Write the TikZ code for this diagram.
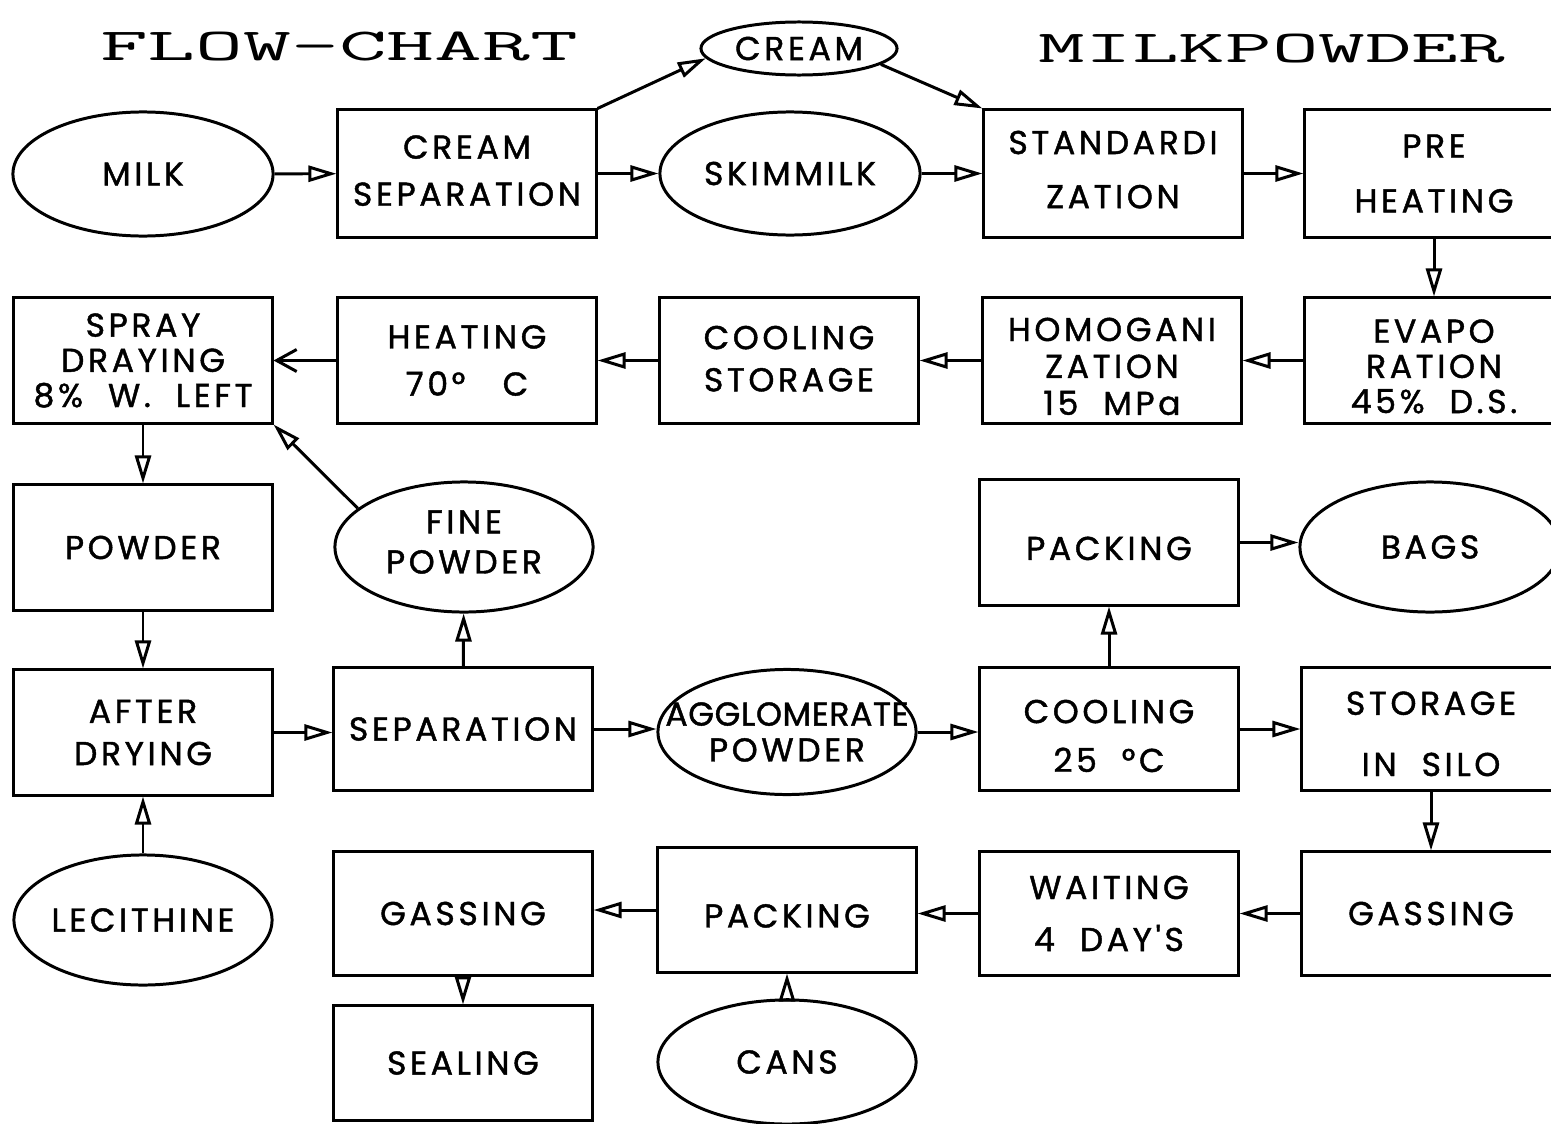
\documentclass[tikz,border=0pt]{standalone}
\usepackage{fontspec}
\usetikzlibrary{shapes.geometric,arrows.meta}
\newfontfamily\boxfont{Poppins}[LetterSpace=11,FakeBold=1.3]
\newcommand{\zw}[1]{\makebox[0pt]{#1}}

\begin{document}
\begin{tikzpicture}[x=0.01cm,y=0.01cm,
  stroke/.style={line width=0.85pt},
  box/.style={stroke, draw, rectangle, minimum width=2.58cm, minimum height=1.25cm, inner sep=0pt, align=center},
  oval/.style={stroke, draw, ellipse, minimum width=2.58cm, minimum height=1.27cm, inner sep=0pt, align=center},
  ls/.style={font=\boxfont\fontsize{9.4pt}{#1}\selectfont},
  ls/.default=12pt,
  flow/.style={stroke, -{Triangle[open,length=0.28cm,width=0.16cm]}},
  barb/.style={stroke, -{Straight Barb[length=0.2cm,width=0.22cm]}},
  title/.style={font=\ttfamily\fontsize{13pt}{15pt}\selectfont}
]
\useasboundingbox (0,0) rectangle (1551,-1124);

% headings
\node[title] (t1) at (339,-46) {\scalebox{2.03}[1]{FLOW—CHART}};
\node[title] (t2) at (1272,-49) {\scalebox{1.98}[1]{MILKPOWDER}};

% row 1
\node[oval, minimum width=2.60cm, minimum height=1.24cm, ls] (milk) at (143,-174) {MILK};
\node[box, minimum height=1.27cm, ls=13.4pt, text depth=1.7pt] (cs) at (467,-173.5) {CREAM\\\zw{SEPARATION}};
\node[oval, minimum width=1.96cm, minimum height=0.53cm, ls] (cream) at (799,-48.5) {\zw{CREAM}};
\node[oval, minimum width=2.60cm, minimum height=1.23cm, ls] (skim) at (790,-173.5) {SKIMMILK};
\node[box, minimum height=1.27cm, ls=15.4pt, text depth=2.3pt] (std) at (1113,-173.5) {\zw{STANDARDI}\\ZATION};
\node[box, minimum height=1.27cm, ls=15.6pt] (pre) at (1434,-173.5) {PRE\\HEATING};

% row 2
\node[box, ls=10pt] (spray) at (143,-360.5) {SPRAY\\DRAYING\\\zw{8\%~~W.~~LEFT}};
\node[box, ls=13.4pt] (heat) at (467,-360.5) {HEATING\\70°~~~C};
\node[box, ls=12pt, text depth=1.1pt] (cool) at (789,-360.5) {COOLING\\STORAGE};
\node[box, ls=10.5pt] (homo) at (1112,-360.5) {\mbox{}\\[-0.5pt]\zw{HOMOGANI}\\ZATION\\15~~MPa};
\node[box, ls=10pt] (evapo) at (1434,-360.5) {\mbox{}\\[0pt]EVAPO\\RATION\\45\%~~D.S.};

% row 3
\node[box, ls] (powder) at (143,-547.5) {POWDER};
\node[oval, minimum height=1.30cm, ls=11.4pt, text depth=2.9pt] (fine) at (464,-547) {FINE\\POWDER};
\node[box, ls, text height=10pt] (pack1) at (1109,-542.5) {PACKING};
\node[oval, minimum width=2.60cm, minimum height=1.30cm, ls] (bags) at (1430,-547) {BAGS};

% row 4
\node[box, ls=12pt] (after) at (143,-732.5) {AFTER\\DRYING};
\node[box, minimum height=1.22cm, ls] (sep) at (463,-729) {\zw{SEPARATION}};
\node[oval, minimum height=1.25cm, ls=10.2pt] (agg) at (787,-732)
  {\zw{\addfontfeature{LetterSpace=2}AGGLOMERATE}\\\zw{POWDER}};
\node[box, minimum height=1.22cm, ls=13.9pt] (cool2) at (1109,-729) {\mbox{}\\[-3.3pt]COOLING\\25~~°C};
\node[box, minimum height=1.22cm, ls=17.4pt] (stor) at (1431,-729) {\mbox{}\\[-8pt]STORAGE\\IN~~SILO};

% row 5
\node[oval, minimum height=1.30cm, ls] (lec) at (143,-920) {\zw{LECITHINE}};
\node[box, minimum height=1.23cm, ls] (gas1) at (463,-913.5) {GASSING};
\node[box, minimum height=1.24cm, ls, text height=10pt] (pack2) at (787,-910) {PACKING};
\node[box, minimum height=1.23cm, ls=14.8pt] (wait) at (1109,-913.5) {WAITING\\4~~DAY'S};
\node[box, minimum height=1.23cm, ls] (gas2) at (1431,-913.5) {GASSING};

% row 6
\node[box, minimum height=1.14cm, ls] (seal) at (463,-1063) {SEALING};
\node[oval, minimum height=1.24cm, ls] (cans) at (787,-1062) {CANS};

% connectors
\draw[flow] (milk) -- (cs);
\draw[flow] (cs) -- (skim);
\draw[flow] (skim) -- (std);
\draw[flow] (std) -- (pre);
\draw[flow] (cs.north east) -- (cream.186);
\draw[flow] (cream.-11) -- (std.north west);
\draw[flow] (pre) -- (evapo);
\draw[flow] (evapo) -- (homo);
\draw[flow] (homo) -- (cool);
\draw[flow] (cool) -- (heat);
\draw[barb] (heat) -- (spray);
\draw[flow] (fine.160) -- (spray.south east);
\draw[flow] (spray) -- (powder);
\draw[flow] (powder) -- (after);
\draw[flow] (lec) -- (after);
\draw[flow] (after.east) -- (after.east -| sep.west);
\draw[flow] (sep) -- (fine);
\draw[flow] (sep.east) -- (sep.east -| agg.west);
\draw[flow] (agg.east) -- (agg.east -| cool2.west);
\draw[flow] (cool2) -- (stor);
\draw[flow] (cool2) -- (pack1);
\draw[flow] (pack1.east) -- (pack1.east -| bags.west);
\draw[flow] (stor) -- (gas2);
\draw[flow] (gas2) -- (wait);
\draw[flow] (wait.west) -- (wait.west -| pack2.east);
\draw[flow] (pack2.west) -- (pack2.west -| gas1.east);
\draw[flow] (gas1) -- (seal);
\draw[flow] (cans) -- (pack2);
\end{tikzpicture}
\end{document}
